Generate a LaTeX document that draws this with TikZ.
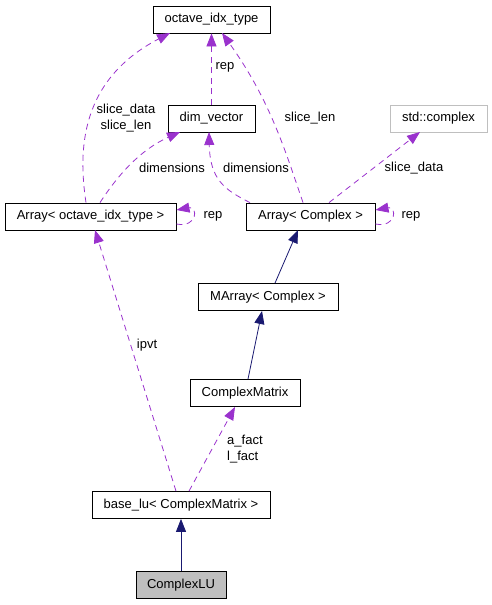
\documentclass[tikz,border=0pt]{standalone}
\usepackage{fontspec}
\setmainfont{Liberation Sans}
\usetikzlibrary{arrows.meta}
\definecolor{purp}{HTML}{9A32CD}
\definecolor{navy}{HTML}{191970}
\definecolor{lgray}{HTML}{BFBFBF}
\tikzset{
  cls/.style={draw=black, line width=0.8pt, fill=white, minimum height=27pt, inner sep=0pt, font=\fontsize{13}{15}\selectfont},
  ext/.style={cls, draw=lgray},
  cur/.style={cls, fill=lgray},
  inh/.style={draw=navy, line width=0.8pt, -{Triangle[length=13pt,width=10pt]}},
  use/.style={draw=purp, line width=0.8pt, dash pattern=on 6pt off 4.5pt, -{Triangle[length=13pt,width=10pt]}},
  lbl/.style={font=\fontsize{13}{16.5}\selectfont, inner sep=0pt, align=left}
}
\begin{document}
\begin{tikzpicture}[x=1pt,y=-1pt]
\useasboundingbox (0,0) rectangle (492,605);
\node[cls, minimum width=117pt] (oit) at (211.5,19.5) {octave\_idx\_type};
\node[cls, minimum width=87pt] (dv) at (211.5,118.5) {dim\_vector};
\node[ext, minimum width=97pt] (sc) at (438.5,118.5) {std::complex};
\node[cls, minimum width=171pt] (ao) at (90.5,216.5) {Array< octave\_idx\_type >};
\node[cls, minimum width=129pt] (ac) at (310.5,216.5) {Array< Complex >};
\node[cls, minimum width=140pt] (ma) at (268,297) {MArray< Complex >};
\node[cls, minimum width=110pt] (cm) at (245,393) {ComplexMatrix};
\node[cls, minimum width=178pt] (bl) at (181,505) {base\_lu< ComplexMatrix >};
\node[cur, minimum width=90pt] (lu) at (181,585) {ComplexLU};

% inheritance
\draw[inh] (lu.north) -- (bl.south);
\draw[inh] (cm.north -| 248,0) -- (262,311);
\draw[inh] (ma.north -| 275,0) -- (298,230);

% usage
\draw[use] (bl.north -| 189,0) -- (235,407);
\node[lbl, anchor=west] (l1) at (227,449) {a\_fact\\l\_fact};
\draw[use] (bl.north -| 176,0) -- (95,230);
\node[lbl] (l2) at (147,345) {ipvt};

\draw[use] (ao.north -| 86,0) .. controls (78,150) and (80,80) .. (170,33);
\node[lbl, align=center] (l3) at (126,118) {slice\_data\\slice\_len};
\draw[use] (ao.north -| 100,0) .. controls (118,175) and (140,150) .. (180,132);
\node[lbl] (l4) at (172,168) {dimensions};
\draw[use] (ao.east |- 0,224) .. controls (198,228) and (198,206) .. (176.5,210);
\node[lbl] (l5) at (213,216) {rep};

\draw[use] (dv.north) -- (oit.south);
\node[lbl] (l6) at (225,67) {rep};

\draw[use] (ac.north -| 303,0) .. controls (285,150) and (270,100) .. (222,33);
\node[lbl] (l7) at (310,118) {slice\_len};
\draw[use] (ac.north -| 250,0) .. controls (225,190) and (210,180) .. (209,132);
\node[lbl] (l8) at (256,168) {dimensions};
\draw[use] (ac.north -| 329,0) -- (420,132);
\node[lbl] (l9) at (414,168) {slice\_data};
\draw[use] (ac.east |- 0,224) .. controls (397,228) and (397,206) .. (375.5,210);
\node[lbl] (l10) at (411,216) {rep};
\end{tikzpicture}
\end{document}
